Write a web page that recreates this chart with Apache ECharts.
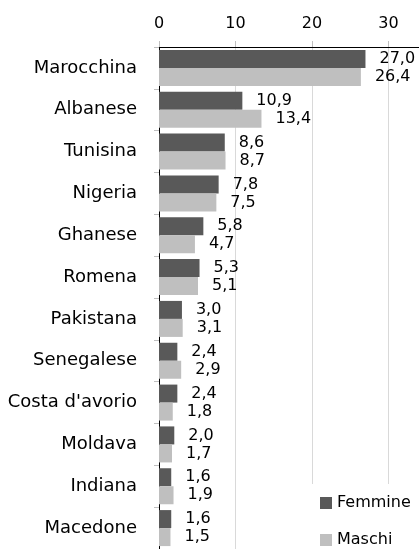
<!DOCTYPE html>
<html lang="it">
<head>
<meta charset="utf-8">
<script src="https://cdn.jsdelivr.net/npm/echarts@6/dist/echarts.min.js"></script>
<style>
  html, body { margin: 0; padding: 0; background: #fff; }
  #main { width: 419px; height: 549px; }
</style>
</head>
<body>
<div id="main"></div>
<script>
// dati
var categorie = ['Marocchina', 'Albanese', 'Tunisina', 'Nigeria', 'Ghanese', 'Romena',
  'Pakistana', 'Senegalese', "Costa d'avorio", 'Moldava', 'Indiana', 'Macedone'];
var femmine = [27.0, 10.9, 8.6, 7.8, 5.8, 5.3, 3.0, 2.4, 2.4, 2.0, 1.6, 1.6];
var maschi = [26.4, 13.4, 8.7, 7.5, 4.7, 5.1, 3.1, 2.9, 1.8, 1.7, 1.9, 1.5];
var tickValori = [0, 10, 20, 30];

var font = 'DejaVu Sans';
function virgola(p) { return p.value.toFixed(1).replace('.', ','); }

// una legenda per voce, così le posizioni restano fisse
function legenda(nome, top, padding) {
  return {
    orient: 'vertical',
    left: 310, top: top,
    padding: padding,
    backgroundColor: '#fff',
    itemWidth: 12, itemHeight: 12,
    textStyle: { fontSize: 16, color: '#000', fontFamily: font },
    data: [{ name: nome, icon: 'rect' }]
  };
}

var myChart = echarts.init(document.getElementById('main'));
myChart.setOption({
  animation: false,
  textStyle: { fontFamily: font },
  grid: { left: 159, top: 47, right: 0, height: 504 },
  legend: [
    legenda('Femmine', 484, [11, 6, 9, 10]),
    legenda('Maschi', 518, [14, 6, 4, 10])
  ],
  xAxis: {
    type: 'value',
    position: 'top',
    min: 0, max: 34, interval: 10,
    axisLine: { show: true, lineStyle: { color: '#000', width: 1 } },
    axisTick: { show: true, length: 6, lineStyle: { color: '#bfbfbf' } },
    splitLine: { lineStyle: { color: '#d9d9d9' } },
    axisLabel: {
      fontSize: 16, color: '#000', margin: 15, showMaxLabel: false,
      formatter: function (v) { return tickValori.indexOf(v) >= 0 ? String(v) : ''; }
    }
  },
  yAxis: {
    type: 'category',
    inverse: true,
    data: categorie,
    axisLine: { show: true, lineStyle: { color: '#000', width: 1 } },
    axisTick: { show: true, length: 5, lineStyle: { color: '#bfbfbf' } },
    axisLabel: { fontSize: 18, color: '#000', margin: 22 }
  },
  series: [
    {
      name: 'Femmine', type: 'bar', data: femmine,
      barWidth: 18, barGap: '0%',
      itemStyle: { color: '#595959' },
      label: { show: true, position: 'right', distance: 14, fontSize: 16, color: '#000', formatter: virgola }
    },
    {
      name: 'Maschi', type: 'bar', data: maschi,
      barWidth: 18,
      itemStyle: { color: '#bfbfbf' },
      label: { show: true, position: 'right', distance: 14, fontSize: 16, color: '#000', formatter: virgola }
    }
  ]
});
</script>
</body>
</html>
